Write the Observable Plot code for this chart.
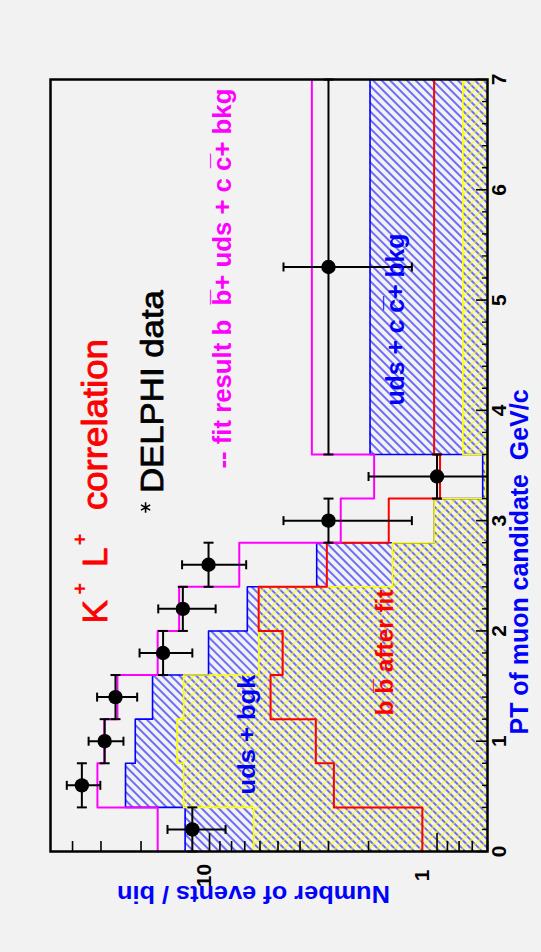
<!DOCTYPE html>
<html><head><meta charset="utf-8">
<script src="https://cdn.jsdelivr.net/npm/d3@7"></script>
<script src="https://cdn.jsdelivr.net/npm/@observablehq/plot@0.6"></script>
<style>
html,body{margin:0;padding:0;background:#f2f2f2;}
#chart{width:541px;height:952px;overflow:hidden;}
svg{display:block;}
</style></head><body><div id="chart"></div>
<script>
// ---- data (PT bins in GeV/c, counts per bin) ----
const binLo = [0, 0.4, 0.8, 1.2, 1.6, 2.0, 2.4, 2.8, 3.2, 3.6];
const binHi = [0.4, 0.8, 1.2, 1.6, 2.0, 2.4, 2.8, 3.2, 3.6, 7.0];
const fitTotal   = [16.9, 31.1, 29.0, 25.4, 16.9, 13.6, 7.4, 2.65, 1.89, 3.55]; // magenta
const udsCcBkg   = [12.8, 23.4, 21.2, 17.8, 10.1, 6.82, 3.38, 1.03, 0.63, 1.97]; // blue hatched
const bbAfterFit = [1.16, 2.84, 3.41, 5.39, 4.77, 6.08, 3.05, 1.63, 0.97, 1.03]; // red
const udsBkg     = [6.40, 13.0, 13.9, 13.0, 6.08, 6.08, 1.57, 1.03, 0.61, 0.77]; // yellow hatched
const dataPt    = [0.2, 0.6, 1.0, 1.4, 1.8, 2.2, 2.6, 3.0, 3.4, 5.3];
const dataCount = [11.9, 36.4, 28.9, 25.9, 16.0, 13.1, 10.1, 3.0, 1.0, 3.0];
const dataErrLo = [8.5, 30.2, 23.9, 20.8, 11.9, 9.4, 6.9, 1.29, 0, 1.29];
const dataErrHi = [15.3, 42.4, 34.0, 31.2, 20.3, 16.8, 13.2, 4.73, 2.0, 4.73];
// ---- axis ticks ----
const ptMajor = [0, 1, 2, 3, 4, 5, 6, 7];
const ptLabels = ["0", "1", "2", "3", "4", "5", "6", "7"];
const ptMinor = d3.range(0, 7.0001, 0.2).filter(v => Math.abs(v - Math.round(v)) > 1e-6);
const countMajor = [1, 10];
const countLabels = ["1", "10"];
const countMinor = [0.6, 0.7, 0.8, 0.9, 2, 3, 4, 5, 6, 7, 8, 9, 20, 30, 40];

const W = 541, H = 952, mL = 50, mR = 54, mT = 79, mB = 101;
const fw = W - mL - mR, fh = H - mT - mB;
const xMin = 0.6, xMax = 50;

const bins = binLo.map((lo, i) => ({lo, hi: binHi[i], total: fitTotal[i], blue: udsCcBkg[i], red: bbAfterFit[i], yellow: udsBkg[i]}));
const stepPts = key => bins.flatMap(b => [{v: b[key], p: b.lo}, {v: b[key], p: b.hi}]);
const pts = dataPt.map((p, i) => ({p, lo: binLo[i], hi: binHi[i], n: dataCount[i], eLo: Math.max(dataErrLo[i], xMin), eHi: dataErrHi[i], clipped: dataErrLo[i] < xMin}));

const vBar = {draw(ctx, size) { const r = Math.sqrt(size / Math.PI); ctx.moveTo(0, -r); ctx.lineTo(0, r); }};
const hBar = {draw(ctx, size) { const r = Math.sqrt(size / Math.PI); ctx.moveTo(-r, 0); ctx.lineTo(r, 0); }};

const FONT = "Liberation Sans, Arial, Helvetica, sans-serif";
function note(t, c, p, o) {
  return Plot.text([{t, c, p}], {x: "c", y: "p", text: "t", rotate: -90, textAnchor: o.anchor || "start",
    lineAnchor: "bottom", fontSize: o.size, fontWeight: o.weight || "normal", fill: o.color, fontFamily: FONT,
    stroke: o.thick ? o.color : null, strokeWidth: o.thick || 0});
}

const outline = (key, color, w) => Plot.line(stepPts(key), {x: "v", y: "p", stroke: color, strokeWidth: w, curve: "linear"});

const svg = Plot.plot({
  width: W, height: H, marginLeft: mL, marginRight: mR, marginTop: mT, marginBottom: mB,
  style: {background: "transparent", fontFamily: FONT},
  x: {type: "log", domain: [xMin, xMax], reverse: true, axis: null},
  y: {domain: [0, 7], axis: null},
  marks: [
    Plot.rectX(bins, {y1: "lo", y2: "hi", x1: xMin, x2: "blue", fill: "url(#hatchBlue)"}),
    Plot.rectX(bins, {y1: "lo", y2: "hi", x1: xMin, x2: "yellow", fill: "url(#hatchYellow)"}),
    outline("blue", "#0000ff", 1.6),
    outline("yellow", "#ffff00", 1.6),
    outline("red", "#ff0000", 2),
    outline("total", "#ff00ff", 2),
    // data error bars
    Plot.ruleY(pts, {y: "p", x1: "eLo", x2: "eHi", stroke: "black", strokeWidth: 2}),
    Plot.ruleX(pts, {x: "n", y1: "lo", y2: "hi", stroke: "black", strokeWidth: 2}),
    Plot.dot(pts, {x: "eHi", y: "p", symbol: vBar, r: 4.5, fill: "none", stroke: "black", strokeWidth: 2}),
    Plot.dot(pts.filter(d => !d.clipped), {x: "eLo", y: "p", symbol: vBar, r: 4.5, fill: "none", stroke: "black", strokeWidth: 2}),
    Plot.dot(pts, {x: "n", y: "lo", symbol: hBar, r: 5, fill: "none", stroke: "black", strokeWidth: 2}),
    Plot.dot(pts, {x: "n", y: "hi", symbol: hBar, r: 5, fill: "none", stroke: "black", strokeWidth: 2}),
    Plot.dot(pts, {x: "n", y: "p", r: 7.2, fill: "black", stroke: "none"}),
    // annotations
    note("K", 28.1, 2.067, {size: 35, color: "#ff0000", thick: 0.9}),
    note("+", 34.5, 2.384, {size: 20, color: "#ff0000", anchor: "middle", weight: "bold"}),
    note("L", 28.1, 2.579, {size: 35, color: "#ff0000", thick: 0.9}),
    note("+", 34.5, 2.829, {size: 20, color: "#ff0000", anchor: "middle", weight: "bold"}),
    note("correlation", 28.1, 3.096, {size: 35, color: "#ff0000", thick: 0.9}),
    Plot.dot([{c: 19.1, p: 3.119}], {x: "c", y: "p", symbol: "asterisk", r: 5, stroke: "black", strokeWidth: 1.6}),
    note("DELPHI data", 15.94, 3.25, {size: 32, color: "black", thick: 0.8}),
    note("-- fit result b  b\u0305+ uds + c c\u0305+ bkg", 8.08, 3.472, {size: 26, color: "#ff00ff", weight: "bold"}),
    note("uds + c c\u0305+ bkg", 1.398, 4.044, {size: 25, color: "#0000ff", weight: "bold"}),
    note("uds + bgk", 6.34, 0.517, {size: 23, color: "#0000ff", weight: "bold"}),
    note("b b\u0305 after fit", 1.563, 1.233, {size: 24, color: "#ff0000", weight: "bold"}),
    // axis titles
    Plot.text(["PT of muon candidate  GeV/c"], {y: 1.061, frameAnchor: "right", dx: 40, rotate: -90, textAnchor: "start", lineAnchor: "bottom", fontSize: 26, fontWeight: "bold", fill: "#0000ff", fontFamily: FONT}),
    Plot.text(["Number of events / bin"], {x: 1.611, frameAnchor: "bottom", dy: 34, rotate: 180, textAnchor: "start", lineAnchor: "bottom", fontSize: 24, fontWeight: "bold", fill: "#0000ff", fontFamily: FONT}),
    // tick labels
    Plot.text(ptMajor, {y: d => d, text: (d, i) => ptLabels[i], frameAnchor: "right", dx: 18, rotate: -90, textAnchor: "middle", lineAnchor: "bottom", fontSize: 21, fontWeight: "bold", fill: "black"}),
    Plot.text([countMajor[0]], {x: d => d, text: () => countLabels[0], frameAnchor: "bottom", dy: 24, dx: -8, rotate: -90, textAnchor: "middle", lineAnchor: "bottom", fontSize: 21, fontWeight: "bold", fill: "black"}),
    Plot.text([countMajor[1]], {x: d => d, text: () => countLabels[1], frameAnchor: "bottom", dy: 24, dx: 1, rotate: -90, textAnchor: "middle", lineAnchor: "bottom", fontSize: 21, fontWeight: "bold", fill: "black"}),
    // ticks (inward)
    Plot.tickY(ptMajor, {y: d => d, insetLeft: fw - 11, stroke: "black", strokeWidth: 1.6}),
    Plot.tickY(ptMinor, {y: d => d, insetLeft: fw - 5, stroke: "black", strokeWidth: 1.4}),
    Plot.tickX(countMajor, {x: d => d, insetTop: fh - 18, stroke: "black", strokeWidth: 1.6}),
    Plot.tickX(countMinor, {x: d => d, insetTop: fh - 10, stroke: "black", strokeWidth: 1.6}),
    Plot.frame({stroke: "black", strokeWidth: 2.5})
  ]
});

// hatch patterns
const defs = d3.select(svg).insert("defs", ":first-child");
const pat = (id, color, angle, w) => {
  const p = defs.append("pattern").attr("id", id).attr("patternUnits", "userSpaceOnUse")
    .attr("width", 6).attr("height", 6).attr("patternTransform", `rotate(${angle})`);
  p.append("line").attr("x1", 3).attr("x2", 3).attr("y1", -1).attr("y2", 7)
    .attr("stroke", color).attr("stroke-width", w);
};
pat("hatchBlue", "#0000ff", -45, 1.1);
pat("hatchYellow", "#ffff00", 45, 1.2);

// fit text lengths to the reference
const fits = new Map([
  ["correlation", 171], ["DELPHI data", 203],
  ["-- fit result b  b\u0305+ uds + c c\u0305+ bkg", 380],
  ["uds + c c\u0305+ bkg", 172], ["uds + bgk", 120], ["b b\u0305 after fit", 126],
  ["PT of muon candidate  GeV/c", 345], ["Number of events / bin", 273]
]);
d3.select(svg).selectAll("text").each(function () {
  const t = this.textContent;
  if (fits.has(t)) { this.setAttribute("textLength", fits.get(t)); this.setAttribute("lengthAdjust", "spacingAndGlyphs"); }
});
document.getElementById("chart").appendChild(svg);
</script></body></html>
